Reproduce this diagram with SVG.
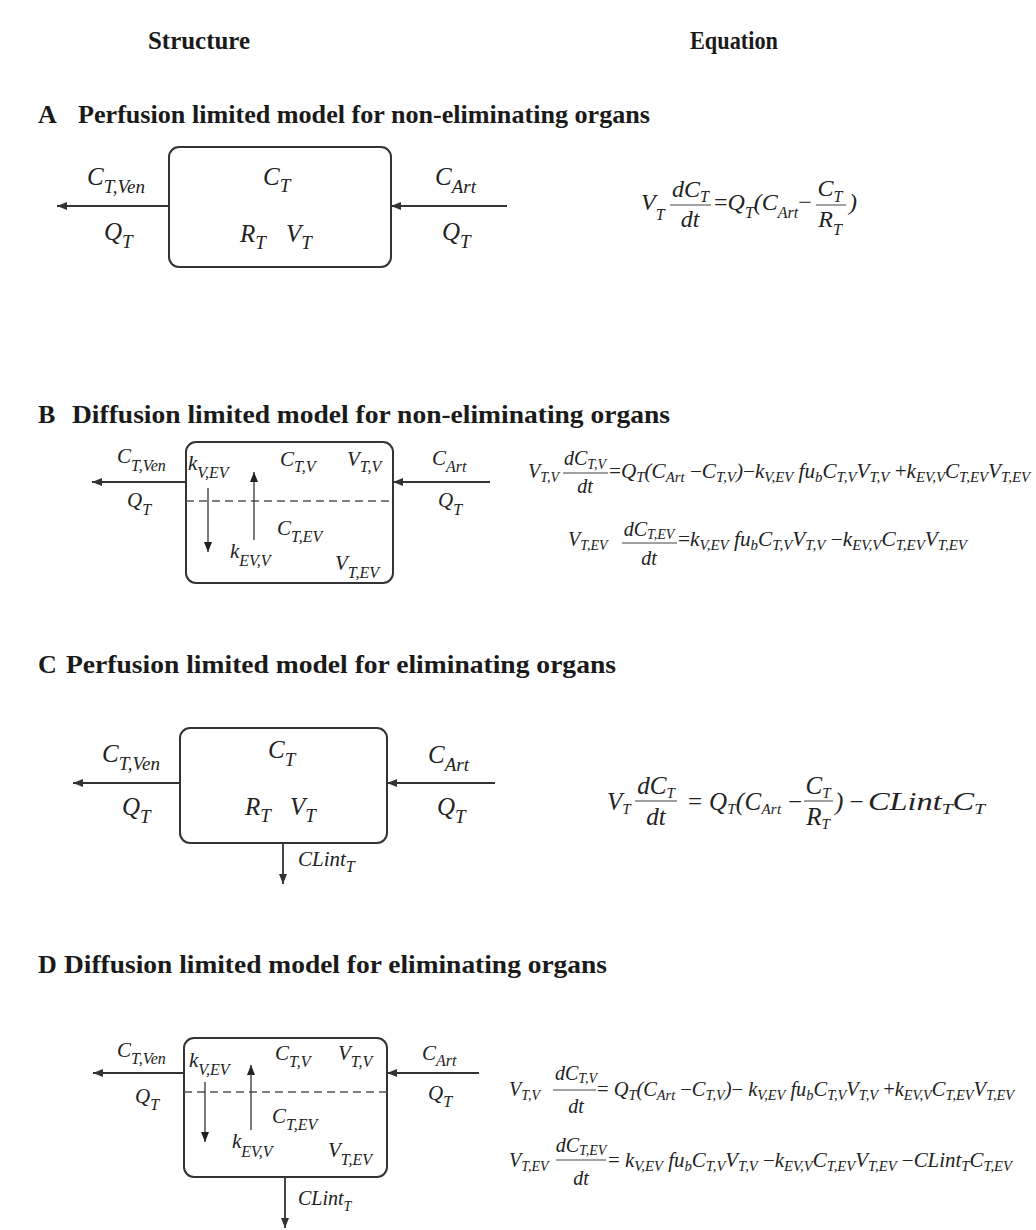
<svg xmlns="http://www.w3.org/2000/svg" width="1036" height="1230" viewBox="0 0 1036 1230">
<style>
.hd{font-family:"Liberation Serif",serif;font-weight:bold;font-size:25px;fill:#1a1a1a}
.tt{font-family:"Liberation Serif",serif;font-weight:bold;font-size:26px;fill:#1a1a1a}
.ma{font-family:"Liberation Serif",serif;font-style:italic;font-size:25px;fill:#222}
.sa{font-size:19px}
.mb{font-family:"Liberation Serif",serif;font-style:italic;font-size:21px;fill:#222}
.sb{font-size:16px}
.e{font-family:"Liberation Serif",serif;font-style:italic;font-size:20px;fill:#222}
.es{font-size:14px}
.ea{font-family:"Liberation Serif",serif;font-style:italic;font-size:24px;fill:#222}
.eas{font-size:16px}
.ec{font-family:"Liberation Serif",serif;font-style:italic;font-size:25px;fill:#222}
.ecs{font-size:15px}
.u{font-style:normal}
.box{fill:#fff;stroke:#333;stroke-width:2}
.dash{stroke:#555;stroke-width:1.6;stroke-dasharray:8 5;fill:none}
.ar{stroke:#333;stroke-width:1.8;fill:none;marker-end:url(#ah)}
.ar2{stroke:#333;stroke-width:1.3;fill:none;marker-end:url(#ah2)}
.fl{stroke:#444;stroke-width:1}
</style>
<defs>
<marker id="ah" viewBox="0 0 10 8" refX="10" refY="4" markerWidth="10" markerHeight="8" markerUnits="userSpaceOnUse" orient="auto"><path d="M0,0 L10,4 L0,8 z" fill="#333"/></marker>
<marker id="ah2" viewBox="0 0 10 8" refX="10" refY="4" markerWidth="11" markerHeight="8" markerUnits="userSpaceOnUse" orient="auto"><path d="M0,0 L10,4 L0,8 z" fill="#222"/></marker>
</defs>
<rect width="1036" height="1230" fill="#fff"/>

<g id="headers">
<text class="hd" x="148" y="49" textLength="102" lengthAdjust="spacingAndGlyphs">Structure</text>
<text class="hd" x="690" y="49" textLength="88" lengthAdjust="spacingAndGlyphs">Equation</text>
</g>

<g id="titles">
<text class="tt" x="38" y="123">A</text>
<text class="tt" x="78" y="123" textLength="572" lengthAdjust="spacingAndGlyphs">Perfusion limited model for non-eliminating organs</text>
<text class="tt" x="38" y="423">B</text>
<text class="tt" x="72" y="423" textLength="598" lengthAdjust="spacingAndGlyphs">Diffusion limited model for non-eliminating organs</text>
<text class="tt" x="38" y="673">C</text>
<text class="tt" x="66" y="673" textLength="550" lengthAdjust="spacingAndGlyphs">Perfusion limited model for eliminating organs</text>
<text class="tt" x="38" y="973">D</text>
<text class="tt" x="64" y="973" textLength="543" lengthAdjust="spacingAndGlyphs">Diffusion limited model for eliminating organs</text>
</g>

<!-- Panel A -->
<g id="nodeA">
<rect class="box" x="169" y="147" width="222" height="120" rx="10"/>
<text class="ma" x="263" y="185">C<tspan class="sa" dy="7">T</tspan></text>
<text class="ma" x="240" y="242">R<tspan class="sa" dy="7">T</tspan></text>
<text class="ma" x="286" y="242">V<tspan class="sa" dy="7">T</tspan></text>
</g>

<!-- Panel B -->
<g id="nodeB">
<rect class="box" x="186" y="442" width="207" height="141" rx="10"/>
<line class="dash" x1="186" y1="501" x2="393" y2="501"/>
<text class="mb" x="188" y="470">k<tspan class="sb" dy="8">V,EV</tspan></text>
<text class="mb" x="280" y="466">C<tspan class="sb" dy="6">T,V</tspan></text>
<text class="mb" x="347" y="466">V<tspan class="sb" dy="6">T,V</tspan></text>
<text class="mb" x="277" y="535">C<tspan class="sb" dy="7">T,EV</tspan></text>
<text class="mb" x="230" y="558">k<tspan class="sb" dy="8">EV,V</tspan></text>
<text class="mb" x="335" y="570">V<tspan class="sb" dy="8">T,EV</tspan></text>
</g>

<!-- Panel C -->
<g id="nodeC">
<rect class="box" x="180" y="728" width="207" height="115" rx="10"/>
<text class="ma" x="268" y="758">C<tspan class="sa" dy="8">T</tspan></text>
<text class="ma" x="245" y="815">R<tspan class="sa" dy="7">T</tspan></text>
<text class="ma" x="290" y="815">V<tspan class="sa" dy="7">T</tspan></text>
</g>

<!-- Panel D -->
<g id="nodeD">
<rect class="box" x="184" y="1038" width="203" height="139" rx="10"/>
<line class="dash" x1="184" y1="1092" x2="387" y2="1092"/>
<text class="mb" x="189" y="1067">k<tspan class="sb" dy="8">V,EV</tspan></text>
<text class="mb" x="275" y="1060">C<tspan class="sb" dy="7">T,V</tspan></text>
<text class="mb" x="338" y="1060">V<tspan class="sb" dy="7">T,V</tspan></text>
<text class="mb" x="272" y="1123">C<tspan class="sb" dy="7">T,EV</tspan></text>
<text class="mb" x="232" y="1148">k<tspan class="sb" dy="9">EV,V</tspan></text>
<text class="mb" x="328" y="1157">V<tspan class="sb" dy="8">T,EV</tspan></text>
</g>

<g id="connectors">
<!-- A -->
<line class="ar" x1="169" y1="206" x2="57" y2="206"/>
<line class="ar" x1="507" y1="206" x2="391" y2="206"/>
<text class="ma" x="87" y="185">C<tspan class="sa" dy="8">T,Ven</tspan></text>
<text class="ma" x="104" y="240">Q<tspan class="sa" dy="8">T</tspan></text>
<text class="ma" x="435" y="185">C<tspan class="sa" dy="8">Art</tspan></text>
<text class="ma" x="442" y="240">Q<tspan class="sa" dy="8">T</tspan></text>
<!-- B -->
<line class="ar" x1="186" y1="482" x2="92" y2="482"/>
<line class="ar" x1="490" y1="482" x2="393" y2="482"/>
<line class="ar2" x1="208" y1="488" x2="208" y2="552"/>
<line class="ar2" x1="254" y1="540" x2="254" y2="472"/>
<text class="mb" x="117" y="463">C<tspan class="sb" dy="8">T,Ven</tspan></text>
<text class="mb" x="127" y="507">Q<tspan class="sb" dy="8">T</tspan></text>
<text class="mb" x="432" y="465">C<tspan class="sb" dy="7">Art</tspan></text>
<text class="mb" x="438" y="507">Q<tspan class="sb" dy="8">T</tspan></text>
<!-- C -->
<line class="ar" x1="180" y1="783" x2="73" y2="783"/>
<line class="ar" x1="495" y1="783" x2="387" y2="783"/>
<line class="ar" x1="283" y1="843" x2="283" y2="884"/>
<text class="ma" x="102" y="762">C<tspan class="sa" dy="8">T,Ven</tspan></text>
<text class="ma" x="122" y="815">Q<tspan class="sa" dy="8">T</tspan></text>
<text class="ma" x="428" y="763">C<tspan class="sa" dy="8">Art</tspan></text>
<text class="ma" x="437" y="815">Q<tspan class="sa" dy="8">T</tspan></text>
<text class="mb" x="298" y="866">CLint<tspan class="sb" dy="6">T</tspan></text>
<!-- D -->
<line class="ar" x1="184" y1="1073" x2="93" y2="1073"/>
<line class="ar" x1="479" y1="1073" x2="387" y2="1073"/>
<line class="ar2" x1="205" y1="1082" x2="205" y2="1142"/>
<line class="ar2" x1="251" y1="1130" x2="251" y2="1065"/>
<line class="ar" x1="285" y1="1177" x2="285" y2="1228"/>
<text class="mb" x="117" y="1057">C<tspan class="sb" dy="7">T,Ven</tspan></text>
<text class="mb" x="135" y="1103">Q<tspan class="sb" dy="7">T</tspan></text>
<text class="mb" x="422" y="1060">C<tspan class="sb" dy="6">Art</tspan></text>
<text class="mb" x="428" y="1100">Q<tspan class="sb" dy="7">T</tspan></text>
<text class="e" x="298" y="1205">CLint<tspan class="es" dy="6">T</tspan></text>
</g>

<!-- Equation A -->
<g id="eqA">
<text class="ea" x="641" y="210">V<tspan class="eas" dy="10">T</tspan></text>
<text class="ea" x="672" y="197">dC<tspan class="eas" dy="5">T</tspan></text>
<line class="fl" x1="670" y1="205" x2="711" y2="205"/>
<text class="ea" x="690" y="227" text-anchor="middle">dt</text>
<text class="ea" x="714" y="210"><tspan class="u">=</tspan>Q<tspan class="eas" dy="8">T</tspan><tspan dy="-8">(C</tspan><tspan class="eas" dy="8">Art</tspan><tspan dy="-8" class="u">−</tspan></text>
<text class="ea" x="830" y="196" text-anchor="middle">C<tspan class="eas" dy="6">T</tspan></text>
<line class="fl" x1="816" y1="205" x2="846" y2="205"/>
<text class="ea" x="830" y="227" text-anchor="middle">R<tspan class="eas" dy="8">T</tspan></text>
<text class="ea" x="849" y="210">)</text>
</g>

<!-- Equations B -->
<g id="eqB">
<text class="e" x="528" y="478">V<tspan class="es" dy="4">T,V</tspan></text>
<text class="e" x="585" y="465" text-anchor="middle">dC<tspan class="es" dy="4">T,V</tspan></text>
<line class="fl" x1="563" y1="473" x2="608" y2="473"/>
<text class="e" x="585" y="493" text-anchor="middle">dt</text>
<text class="e" x="609" y="478" textLength="421" lengthAdjust="spacingAndGlyphs"><tspan class="u">=</tspan>Q<tspan class="es" dy="4">T</tspan><tspan dy="-4">(C</tspan><tspan class="es" dy="4">Art</tspan><tspan dy="-4" class="u"> −</tspan>C<tspan class="es" dy="4">T,V</tspan><tspan dy="-4">)</tspan><tspan class="u">−</tspan>k<tspan class="es" dy="4">V,EV</tspan><tspan dy="-4"> fu</tspan><tspan class="es" dy="4">b</tspan><tspan dy="-4">C</tspan><tspan class="es" dy="4">T,V</tspan><tspan dy="-4">V</tspan><tspan class="es" dy="4">T,V</tspan><tspan dy="-4" class="u"> +</tspan>k<tspan class="es" dy="4">EV,V</tspan><tspan dy="-4">C</tspan><tspan class="es" dy="4">T,EV</tspan><tspan dy="-4">V</tspan><tspan class="es" dy="4">T,EV</tspan></text>

<text class="e" x="568" y="546">V<tspan class="es" dy="4">T,EV</tspan></text>
<text class="e" x="649" y="536" text-anchor="middle">dC<tspan class="es" dy="3">T,EV</tspan></text>
<line class="fl" x1="622" y1="543" x2="677" y2="543"/>
<text class="e" x="649" y="565" text-anchor="middle">dt</text>
<text class="e" x="678" y="546" textLength="289" lengthAdjust="spacingAndGlyphs"><tspan class="u">=</tspan>k<tspan class="es" dy="4">V,EV</tspan><tspan dy="-4"> fu</tspan><tspan class="es" dy="4">b</tspan><tspan dy="-4">C</tspan><tspan class="es" dy="4">T,V</tspan><tspan dy="-4">V</tspan><tspan class="es" dy="4">T,V</tspan><tspan dy="-4" class="u"> −</tspan>k<tspan class="es" dy="4">EV,V</tspan><tspan dy="-4">C</tspan><tspan class="es" dy="4">T,EV</tspan><tspan dy="-4">V</tspan><tspan class="es" dy="4">T,EV</tspan></text>
</g>

<!-- Equation C -->
<g id="eqC">
<text class="ec" x="607" y="810">V<tspan class="ecs" dy="4">T</tspan></text>
<text class="ec" x="656" y="794" text-anchor="middle">dC<tspan class="ecs" dy="4">T</tspan></text>
<line class="fl" x1="635" y1="801" x2="677" y2="801"/>
<text class="ec" x="656" y="825" text-anchor="middle">dt</text>
<text class="ec" x="688" y="810" textLength="114" lengthAdjust="spacing"><tspan class="u">=</tspan> Q<tspan class="ecs" dy="4">T</tspan><tspan dy="-4">(C</tspan><tspan class="ecs" dy="4">Art</tspan><tspan dy="-4" class="u"> −</tspan></text>
<text class="ec" x="818" y="794" text-anchor="middle">C<tspan class="ecs" dy="4">T</tspan></text>
<line class="fl" x1="804" y1="801" x2="833" y2="801"/>
<text class="ec" x="818" y="825" text-anchor="middle">R<tspan class="ecs" dy="4">T</tspan></text>
<text class="ec" x="835" y="810">)<tspan class="u"> − </tspan></text>
<text class="ec" x="868" y="810" textLength="117" lengthAdjust="spacingAndGlyphs">CLint<tspan class="ecs" dy="4">T</tspan><tspan dy="-4">C</tspan><tspan class="ecs" dy="4">T</tspan></text>
</g>

<!-- Equations D -->
<g id="eqD">
<text class="e" x="509" y="1096">V<tspan class="es" dy="4">T,V</tspan></text>
<text class="e" x="576" y="1080" text-anchor="middle">dC<tspan class="es" dy="3">T,V</tspan></text>
<line class="fl" x1="553" y1="1090" x2="596" y2="1090"/>
<text class="e" x="576" y="1113" text-anchor="middle">dt</text>
<text class="e" x="597" y="1096" textLength="417" lengthAdjust="spacingAndGlyphs"><tspan class="u">= </tspan>Q<tspan class="es" dy="4">T</tspan><tspan dy="-4">(C</tspan><tspan class="es" dy="4">Art</tspan><tspan dy="-4" class="u"> −</tspan>C<tspan class="es" dy="4">T,V</tspan><tspan dy="-4">)</tspan><tspan class="u">−</tspan> k<tspan class="es" dy="4">V,EV</tspan><tspan dy="-4"> fu</tspan><tspan class="es" dy="4">b</tspan><tspan dy="-4">C</tspan><tspan class="es" dy="4">T,V</tspan><tspan dy="-4">V</tspan><tspan class="es" dy="4">T,V</tspan><tspan dy="-4" class="u"> +</tspan>k<tspan class="es" dy="4">EV,V</tspan><tspan dy="-4">C</tspan><tspan class="es" dy="4">T,EV</tspan><tspan dy="-4">V</tspan><tspan class="es" dy="4">T,EV</tspan></text>

<text class="e" x="509" y="1167">V<tspan class="es" dy="4">T,EV</tspan></text>
<text class="e" x="581" y="1152" text-anchor="middle">dC<tspan class="es" dy="3">T,EV</tspan></text>
<line class="fl" x1="556" y1="1160" x2="606" y2="1160"/>
<text class="e" x="581" y="1185" text-anchor="middle">dt</text>
<text class="e" x="608" y="1167" textLength="404" lengthAdjust="spacingAndGlyphs"><tspan class="u">= </tspan>k<tspan class="es" dy="4">V,EV</tspan><tspan dy="-4"> fu</tspan><tspan class="es" dy="4">b</tspan><tspan dy="-4">C</tspan><tspan class="es" dy="4">T,V</tspan><tspan dy="-4">V</tspan><tspan class="es" dy="4">T,V</tspan><tspan dy="-4" class="u"> −</tspan>k<tspan class="es" dy="4">EV,V</tspan><tspan dy="-4">C</tspan><tspan class="es" dy="4">T,EV</tspan><tspan dy="-4">V</tspan><tspan class="es" dy="4">T,EV</tspan><tspan dy="-4" class="u"> −</tspan>CLint<tspan class="es" dy="4">T</tspan><tspan dy="-4">C</tspan><tspan class="es" dy="4">T,EV</tspan></text>
</g>
</svg>
